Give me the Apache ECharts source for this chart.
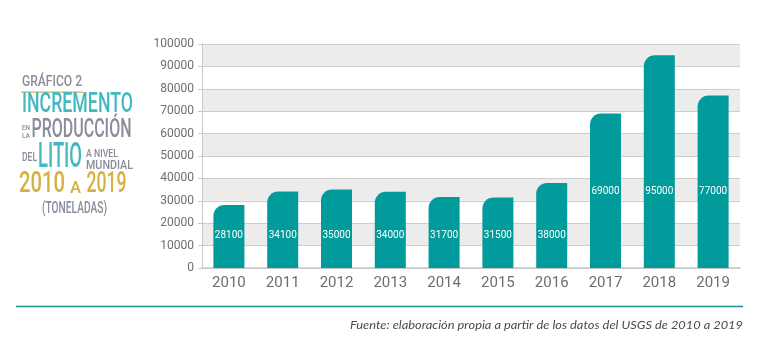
<!DOCTYPE html>
<html><head><meta charset="utf-8">
<script src="https://cdn.jsdelivr.net/npm/echarts@6/dist/echarts.min.js"></script>
<style>html,body{margin:0;padding:0;background:#fff}#c{width:770px;height:358px}</style>
</head><body><div id="c"></div>
<script>
const categories = ['2010','2011','2012','2013','2014','2015','2016','2017','2018','2019'];
const values = [28100,34100,35000,34000,31700,31500,38000,69000,95000,77000];
const yTicks = [0,10000,20000,30000,40000,50000,60000,70000,80000,90000,100000];
const footnote = 'Fuente: elaboración propia a partir de los datos del USGS de 2010 a 2019';

const FAM = "Roboto, 'DejaVu Sans', sans-serif";
const TEAL = '#40b9c3', GRAY = '#8b8b9b', GOLD = '#d6b142', BAR = '#009b9a';

const mctx = document.createElement('canvas').getContext('2d');
function txt(text, x, cy, cap, width, color) {
  const fs = cap / 0.71;
  const font = '500 ' + fs.toFixed(1) + 'px ' + FAM;
  mctx.font = font;
  const w = mctx.measureText(text).width;
  return {type:'text', x:x, y:cy, scaleX: width / w, silent:true,
    style:{text:text, x:0, y:0, font:font, fill:color, textAlign:'left', textVerticalAlign:'middle', verticalAlign:'middle'}};
}
function foot(text, right, cy, width) {
  const font = "italic 11.5px Lato, 'Open Sans', sans-serif";
  mctx.font = font;
  const w = mctx.measureText(text).width;
  return {type:'text', x:right, y:cy, scaleX: width / w, silent:true,
    style:{text:text, x:0, y:0, font:font, fill:'#4a4a4a', textAlign:'right', textVerticalAlign:'middle', verticalAlign:'middle'}};
}

const graphic = [
  txt('GRÁFICO 2', 22, 82, 10.5, 60, GRAY),
  {type:'rect', shape:{x:21, y:91.5, width:62, height:1.3}, style:{fill:GOLD}, silent:true},
  txt('INCREMENTO', 22, 105, 20, 111, TEAL),
  txt('EN', 22, 128, 5, 8, GRAY),
  txt('LA', 22, 136, 5, 8, GRAY),
  txt('PRODUCCIÓN', 31.5, 131, 18, 100, GRAY),
  txt('DEL', 22, 157.5, 8.5, 15, GRAY),
  txt('LITIO', 38, 158, 24.5, 44, TEAL),
  txt('A NIVEL', 86, 154, 8, 32, GRAY),
  txt('MUNDIAL', 86, 165.5, 9.5, 47, GRAY),
  txt('2010', 19, 184.5, 21, 46, GOLD),
  txt('A', 70, 189, 12, 11, GOLD),
  txt('2019', 86.5, 184.5, 21, 40, GOLD),
  txt('(TONELADAS)', 42, 209, 12, 65, GRAY),
  {type:'line', shape:{x1:16, y1:306.5, x2:743, y2:306.5}, style:{stroke:'#1b8f94', lineWidth:1.5}, silent:true},
  foot(footnote, 743, 325, 393)
];

const chart = echarts.init(document.getElementById('c'), null, {renderer:'canvas'});
chart.setOption({
  animation:false,
  backgroundColor:'#fff',
  graphic: graphic,
  grid:{left:202, right:30, top:44, bottom:90, containLabel:false},
  xAxis:{type:'category', data:categories,
    axisLine:{lineStyle:{color:'#c8c8c8', width:1.5}}, axisTick:{show:false},
    axisLabel:{color:'#6e6e6e', fontSize:15, fontFamily:FAM, margin:8}},
  yAxis:{type:'value', min:0, max:100000, interval:10000,
    axisLine:{show:true, lineStyle:{color:'#c8c8c8'}},
    axisTick:{show:true, length:4, lineStyle:{color:'#c8c8c8'}},
    axisLabel:{color:'#6e6e6e', fontSize:12, fontFamily:FAM, margin:8,
      formatter: v => yTicks.indexOf(v) >= 0 ? String(v) : ''},
    splitLine:{show:true, lineStyle:{color:'#cdcdcd', width:1}},
    splitArea:{show:true, areaStyle:{color:['#ffffff','#ececec']}}},
  series:[{type:'bar', barWidth:31,
    data: values.map(v => ({value:v, label:{distance: v > 60000 ? 72 : 28}})),
    itemStyle:{color:BAR, borderRadius:[11,0,0,0]},
    label:{show:true, position:'insideBottom', color:'#fff', fontSize:10, fontFamily:FAM}}]
});
</script></body></html>
